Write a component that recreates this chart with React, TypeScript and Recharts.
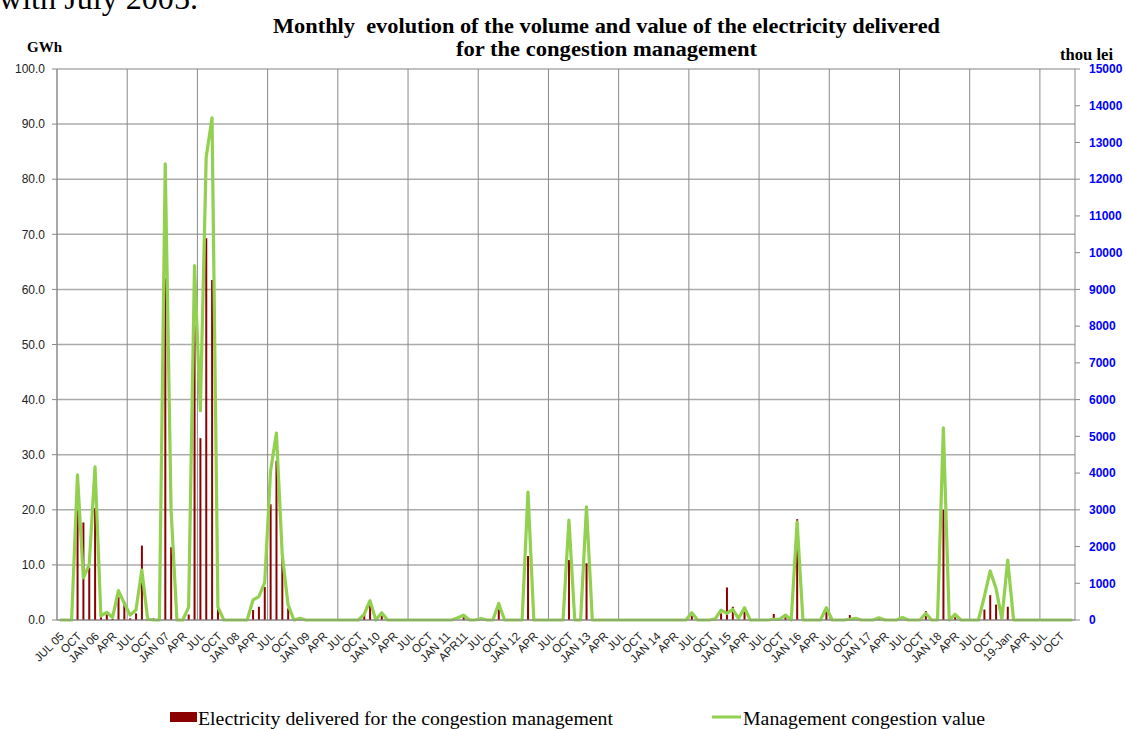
import React from 'react';
import { ComposedChart, Bar, Line, XAxis, YAxis, CartesianGrid, ReferenceLine } from 'recharts';

const tickLabels: string[] = [
  'JUL 05', 'OCT',
  'JAN 06', 'APR', 'JUL', 'OCT',
  'JAN 07', 'APR', 'JUL', 'OCT',
  'JAN 08', 'APR', 'JUL', 'OCT',
  'JAN 09', 'APR', 'JUL', 'OCT',
  'JAN 10', 'APR', 'JUL', 'OCT',
  'JAN 11', 'APR11', 'JUL', 'OCT',
  'JAN 12', 'APR', 'JUL', 'OCT',
  'JAN 13', 'APR', 'JUL', 'OCT',
  'JAN 14', 'APR', 'JUL', 'OCT',
  'JAN 15', 'APR', 'JUL', 'OCT',
  'JAN 16', 'APR', 'JUL', 'OCT',
  'JAN 17', 'APR', 'JUL', 'OCT',
  'JAN 18', 'APR', 'JUL', 'OCT',
  '19-Jan', 'APR', 'JUL', 'OCT',
];

// GWh, monthly from Jul 2005 to Dec 2019
const electricityGWh: number[] = [
  0, 0, 0, 20.0, 17.7, 9.5, 20.3, 0.5, 1.0, 0.2, 4.2, 3.3,
  0.3, 1.2, 13.5, 0.2, 0.3, 0, 62.0, 13.2, 0, 0, 1.0, 53.5,
  33.0, 69.3, 61.7, 2.7, 0.2, 0, 0, 0, 0, 1.8, 2.4, 6.0,
  21.0, 28.9, 11.2, 2.1, 0, 0.1, 0, 0, 0.1, 0, 0.1, 0,
  0, 0, 0, 0, 1.3, 3.6, 0, 0.7, 0, 0, 0, 0,
  0, 0, 0, 0, 0, 0, 0, 0, 0, 0.5, 0, 0,
  0, 0, 0, 1.9, 0, 0, 0, 0, 11.6, 0, 0, 0,
  0, 0, 0, 10.9, 0, 0, 10.3, 0, 0, 0, 0, 0,
  0, 0, 0, 0, 0, 0, 0, 0, 0, 0, 0, 0,
  0.7, 0, 0.1, 0, 0, 1.2, 5.9, 2.4, 0.5, 1.5, 0, 0.2,
  0, 0, 1.1, 0, 0.5, 0, 18.3, 0, 0.1, 0, 0, 1.5,
  0, 0, 0, 0.9, 0, 0, 0, 0, 0.35, 0.2, 0, 0,
  0, 0, 0, 0, 1.6, 0, 0, 20.0, 0, 0.5, 0, 0,
  0, 0, 1.9, 4.5, 2.8, 0, 2.4, 0, 0, 0, 0.1, 0,
  0, 0, 0, 0, 0, 0,
];

// thou lei, monthly from Jul 2005 to Dec 2019
const congestionValue: number[] = [
  0, 0, 0, 3950, 1150, 1500, 4170, 110, 210, 70, 800, 455,
  135, 270, 1360, 20, 0, 0, 12420, 2980, 0, 0, 350, 9650,
  5700, 12600, 13670, 360, 0, 0, 0, 0, 0, 545, 635, 1015,
  4050, 5090, 1770, 410, 0, 50, 0, 0, 0, 0, 0, 0,
  0, 0, 0, 0, 150, 525, 0, 200, 0, 0, 0, 0,
  0, 0, 0, 0, 0, 0, 0, 0, 60, 130, 0, 0,
  40, 0, 0, 450, 0, 0, 0, 0, 3485, 0, 0, 0,
  0, 0, 0, 2720, 0, 0, 3080, 0, 0, 0, 0, 0,
  0, 0, 0, 0, 0, 0, 0, 0, 0, 0, 0, 0,
  200, 0, 0, 0, 30, 270, 180, 290, 40, 335, 0, 0,
  0, 0, 20, 20, 135, 0, 2670, 0, 0, 0, 0, 335,
  0, 0, 0, 20, 45, 0, 0, 0, 60, 0, 0, 0,
  70, 0, 0, 0, 180, 0, 0, 5230, 0, 155, 0, 0,
  0, 0, 635, 1335, 860, 30, 1630, 0, 0, 0, 0, 0,
  0, 0, 0, 0, 0, 0,
];

const gwhTicks: number[] = [0, 10, 20, 30, 40, 50, 60, 70, 80, 90, 100];
const leiTicks: number[] = [0, 1000, 2000, 3000, 4000, 5000, 6000, 7000, 8000, 9000, 10000, 11000, 12000, 13000, 14000, 15000];

const MONTHS = electricityGWh.length;
const data = electricityGWh.map((g, i) => ({ x: i + 0.5, gwh: g, val: congestionValue[i] }));
const labelTicks = tickLabels.map((_, k) => k * 3 + 0.5);
const yearBoundaries: number[] = [];
for (let m = 0; m < MONTHS; m += 12) yearBoundaries.push(m);

const SANS = '"Liberation Sans", Arial, sans-serif';
const SERIF = '"Liberation Serif", "Times New Roman", serif';

const XTick = (props: any) => {
  const { x, y, payload } = props;
  const idx = Math.round((payload.value - 0.5) / 3);
  return (
    <g transform={`translate(${x + 2},${y + 10})`}>
      <text x={0} y={0} dy="0.35em" textAnchor="end" transform="rotate(-45)" fontSize={11.5} fontFamily={SANS} fill="#222">
        {tickLabels[idx]}
      </text>
    </g>
  );
};

export default function App() {
  return (
    <div style={{ position: 'absolute', left: 0, top: 0, width: 1126, height: 729, background: '#fff', overflow: 'hidden' }}>
      <ComposedChart width={1126} height={729} data={data} margin={{ top: 69, right: 0, bottom: 49, left: 0 }}>
        <CartesianGrid vertical={false} stroke="#ababab" strokeWidth={1.5} />
        {yearBoundaries.map((v) => (
          <ReferenceLine key={v} x={v} stroke="#8a8a8a" strokeWidth={1} />
        ))}
        <XAxis
          type="number"
          dataKey="x"
          domain={[0, MONTHS]}
          ticks={labelTicks}
          interval={0}
          tick={<XTick />}
          tickLine={false}
          tickSize={0}
          tickMargin={4}
          axisLine={{ stroke: '#8a8a8a' }}
          height={60}
        />
        <YAxis
          domain={[0, 100]}
          ticks={gwhTicks}
          interval={0}
          width={57}
          tickFormatter={(v: number) => v.toFixed(1)}
          tick={{ fill: '#222', fontSize: 12, fontFamily: SANS }}
          tickSize={5}
          tickMargin={7}
          tickLine={{ stroke: '#8a8a8a' }}
          axisLine={{ stroke: '#8a8a8a' }}
        />
        <YAxis
          yAxisId="right"
          orientation="right"
          domain={[0, 15000]}
          ticks={leiTicks}
          interval={0}
          width={51}
          tick={{ fill: '#0000ff', fontSize: 12, fontFamily: SANS, fontWeight: 'bold' }}
          tickSize={5}
          tickMargin={9}
          tickLine={{ stroke: '#8a8a8a' }}
          axisLine={{ stroke: '#8a8a8a' }}
        />
        <Bar dataKey="gwh" fill="#8B0000" barSize={2} isAnimationActive={false} />
        <Line
          yAxisId="right"
          dataKey="val"
          type="linear"
          stroke="#92D050"
          strokeWidth={3.2}
          strokeLinejoin="round"
          dot={false}
          activeDot={false}
          isAnimationActive={false}
        />
      </ComposedChart>
      <svg width={1126} height={729} style={{ position: 'absolute', left: 0, top: 0, pointerEvents: 'none' }}>
        <text x={-1} y={9} fontFamily={SERIF} fontSize={31} fill="#000" textLength={199} lengthAdjust="spacingAndGlyphs">
          with July 2005.
        </text>
        <text x={273} y={33} fontFamily={SERIF} fontSize={20} fontWeight="bold" fill="#000" style={{ whiteSpace: 'pre' }} textLength={667} lengthAdjust="spacingAndGlyphs">
          {'Monthly  evolution of the volume and value of the electricity delivered'}
        </text>
        <text x={456} y={56} fontFamily={SERIF} fontSize={20} fontWeight="bold" fill="#000" textLength={301} lengthAdjust="spacingAndGlyphs">
          for the congestion management
        </text>
        <text x={27} y={52} fontFamily={SERIF} fontSize={15} fontWeight="bold" fill="#000">
          GWh
        </text>
        <text x={1060} y={60} fontFamily={SERIF} fontSize={16} fontWeight="bold" fill="#000" textLength={53} lengthAdjust="spacingAndGlyphs">
          thou lei
        </text>
        <rect x={170} y={712} width={27} height={10} fill="#8B0000" />
        <text x={198} y={725} fontFamily={SERIF} fontSize={18} fill="#000" textLength={415} lengthAdjust="spacingAndGlyphs">
          Electricity delivered for the congestion management
        </text>
        <line x1={712} y1={717} x2={741} y2={717} stroke="#92D050" strokeWidth={3} />
        <text x={743} y={725} fontFamily={SERIF} fontSize={18} fill="#000" textLength={242} lengthAdjust="spacingAndGlyphs">
          Management congestion value
        </text>
      </svg>
    </div>
  );
}
